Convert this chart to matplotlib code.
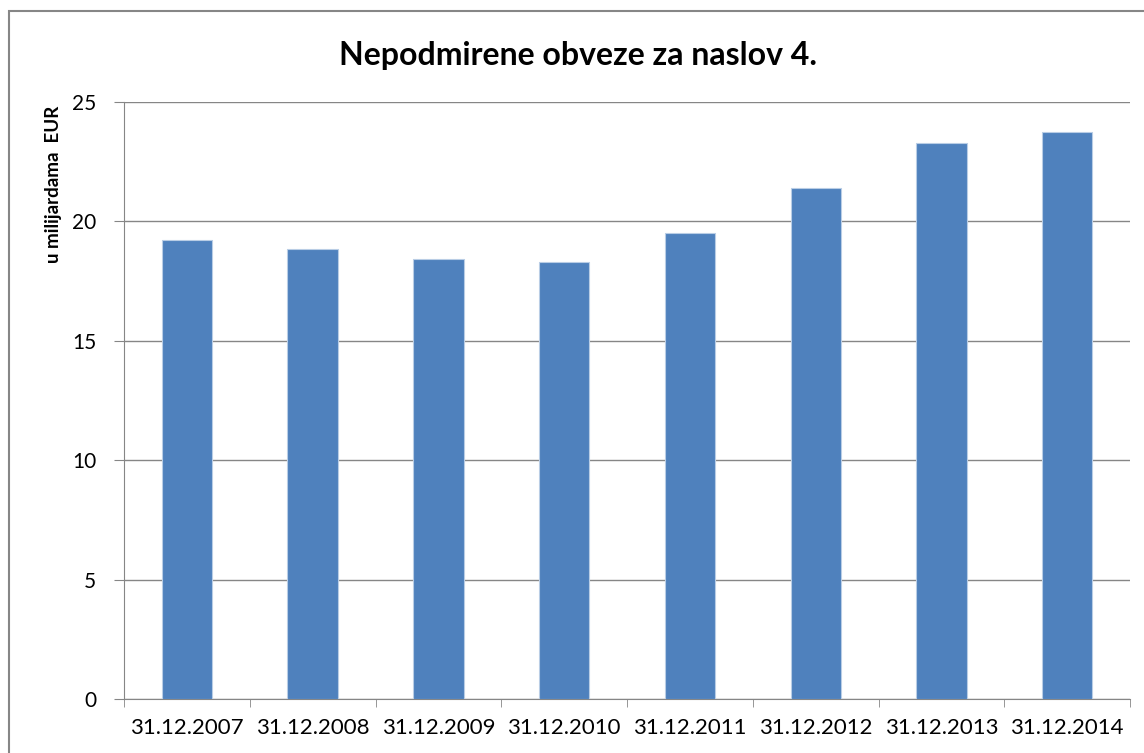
import matplotlib.pyplot as plt
import numpy as np
from matplotlib.patches import Rectangle

# data
dates = ['31.12.2007', '31.12.2008', '31.12.2009', '31.12.2010',
         '31.12.2011', '31.12.2012', '31.12.2013', '31.12.2014']
values = [19.24, 18.85, 18.44, 18.30, 19.52, 21.40, 23.29, 23.73]

plt.rcParams['font.family'] = ['Lato', 'DejaVu Sans']

fig = plt.figure(figsize=(11.44, 7.53), dpi=100)
ax = fig.add_axes([0.1084, 0.0717, 0.8794, 0.7928])

x = np.arange(len(dates))
ax.bar(x, values, width=0.4, color='#4F81BD', edgecolor='#B9CDE5', linewidth=0.8, zorder=3)

ax.set_xlim(-0.5, len(dates) - 0.5)
ax.set_ylim(0, 25)
ax.set_yticks([0, 5, 10, 15, 20, 25])
ax.yaxis.grid(True, color='#868686', linewidth=1)
ax.set_axisbelow(True)

# ticks between categories
ax.set_xticks(x)
ax.set_xticklabels(dates, fontsize=16)
ax.set_xticks(np.arange(len(dates) + 1) - 0.5, minor=True)
ax.tick_params(axis='x', which='major', length=0, pad=14)
ax.tick_params(axis='x', which='minor', length=6, color='#868686')
ax.tick_params(axis='y', length=7, color='#868686', labelsize=15, pad=13)

for s in ['top', 'right']:
    ax.spines[s].set_visible(False)
for s in ['left', 'bottom']:
    ax.spines[s].set_color('#868686')

fig.text(54 / 1144, 1 - 184 / 753, 'u milijardama  EUR', rotation=90,
         ha='center', va='center', fontsize=13.5, fontweight='bold')
fig.text(0.505, 0.926, 'Nepodmirene obveze za naslov 4.', ha='center', va='center',
         fontsize=23, fontweight='bold')

# outer chart border
fig.patches.append(Rectangle((9 / 1144, -0.01), 1.2, 1 - 11 / 753 + 0.01,
                             transform=fig.transFigure, fill=False,
                             edgecolor='#868686', linewidth=1.5))

plt.savefig('out.png', dpi=100)
